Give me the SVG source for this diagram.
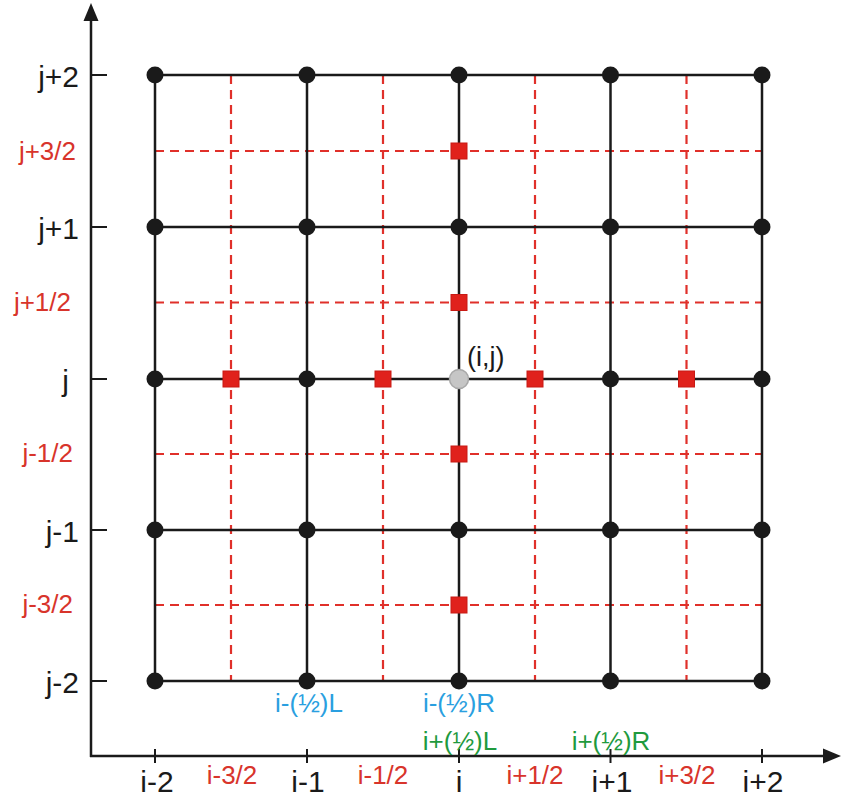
<svg xmlns="http://www.w3.org/2000/svg" width="843" height="798" viewBox="0 0 843 798">
<defs>
<style>
.grid{stroke:#1a1a1a;stroke-width:2.5;fill:none}
.dash{stroke:#e0302a;stroke-width:2.2;stroke-dasharray:9 6;fill:none}
.axis{stroke:#1a1a1a;stroke-width:2.5;fill:none}
.tick{stroke:#1a1a1a;stroke-width:2}
.node{fill:#1a1a1a}
.half{fill:#e0221c;stroke:#c81a14;stroke-width:1}
.lb{font-family:"Liberation Sans",Arial,sans-serif;font-size:30px;fill:#1a1a1a}
.lr{font-family:"Liberation Sans",Arial,sans-serif;font-size:26px;fill:#d8342b}
.lblue{font-family:"Liberation Sans",Arial,sans-serif;font-size:26px;fill:#2a9fe0}
.lgreen{font-family:"Liberation Sans",Arial,sans-serif;font-size:26px;fill:#1f9a3e}
</style>
</defs>
<g id="connectors">
<g id="dashed-lines">
<line class="dash" x1="155" y1="151" x2="762" y2="151"/>
<line class="dash" x1="155" y1="302.5" x2="762" y2="302.5"/>
<line class="dash" x1="155" y1="454" x2="762" y2="454"/>
<line class="dash" x1="155" y1="605" x2="762" y2="605"/>
<line class="dash" x1="231" y1="75" x2="231" y2="681"/>
<line class="dash" x1="383" y1="75" x2="383" y2="681"/>
<line class="dash" x1="535" y1="75" x2="535" y2="681"/>
<line class="dash" x1="686.5" y1="75" x2="686.5" y2="681"/>
</g>
<g id="grid-lines">
<line class="grid" x1="155" y1="75" x2="762" y2="75"/>
<line class="grid" x1="155" y1="227" x2="762" y2="227"/>
<line class="grid" x1="155" y1="379" x2="762" y2="379"/>
<line class="grid" x1="155" y1="530" x2="762" y2="530"/>
<line class="grid" x1="155" y1="681" x2="762" y2="681"/>
<line class="grid" x1="155" y1="75" x2="155" y2="681"/>
<line class="grid" x1="307" y1="75" x2="307" y2="681"/>
<line class="grid" x1="459" y1="75" x2="459" y2="681"/>
<line class="grid" x1="610.5" y1="75" x2="610.5" y2="681"/>
<line class="grid" x1="762" y1="75" x2="762" y2="681"/>
</g>
<g id="axes">
<line class="axis" x1="91" y1="757" x2="91" y2="18"/>
<polygon points="91,3 83.5,21 98.5,21" fill="#1a1a1a"/>
<line class="axis" x1="90" y1="756" x2="825" y2="756"/>
<polygon points="841,756 823,748.5 823,763.5" fill="#1a1a1a"/>
<line class="tick" x1="91" y1="75" x2="107" y2="75"/>
<line class="tick" x1="91" y1="227" x2="107" y2="227"/>
<line class="tick" x1="91" y1="379" x2="107" y2="379"/>
<line class="tick" x1="91" y1="530" x2="107" y2="530"/>
<line class="tick" x1="91" y1="681" x2="107" y2="681"/>
<line class="tick" x1="155" y1="749" x2="155" y2="763"/>
<line class="tick" x1="307" y1="749" x2="307" y2="763"/>
<line class="tick" x1="459" y1="749" x2="459" y2="763"/>
<line class="tick" x1="610.5" y1="749" x2="610.5" y2="763"/>
<line class="tick" x1="762" y1="749" x2="762" y2="763"/>
</g>
</g>
<g id="nodes">
<g id="n-im2-jp2"><circle class="node" cx="155" cy="75" r="8.5"/></g>
<g id="n-im1-jp2"><circle class="node" cx="307" cy="75" r="8.5"/></g>
<g id="n-i-jp2"><circle class="node" cx="459" cy="75" r="8.5"/></g>
<g id="n-ip1-jp2"><circle class="node" cx="610.5" cy="75" r="8.5"/></g>
<g id="n-ip2-jp2"><circle class="node" cx="762" cy="75" r="8.5"/></g>
<g id="n-im2-jp1"><circle class="node" cx="155" cy="227" r="8.5"/></g>
<g id="n-im1-jp1"><circle class="node" cx="307" cy="227" r="8.5"/></g>
<g id="n-i-jp1"><circle class="node" cx="459" cy="227" r="8.5"/></g>
<g id="n-ip1-jp1"><circle class="node" cx="610.5" cy="227" r="8.5"/></g>
<g id="n-ip2-jp1"><circle class="node" cx="762" cy="227" r="8.5"/></g>
<g id="n-im2-j"><circle class="node" cx="155" cy="379" r="8.5"/></g>
<g id="n-im1-j"><circle class="node" cx="307" cy="379" r="8.5"/></g>
<g id="n-ip1-j"><circle class="node" cx="610.5" cy="379" r="8.5"/></g>
<g id="n-ip2-j"><circle class="node" cx="762" cy="379" r="8.5"/></g>
<g id="n-im2-jm1"><circle class="node" cx="155" cy="530" r="8.5"/></g>
<g id="n-im1-jm1"><circle class="node" cx="307" cy="530" r="8.5"/></g>
<g id="n-i-jm1"><circle class="node" cx="459" cy="530" r="8.5"/></g>
<g id="n-ip1-jm1"><circle class="node" cx="610.5" cy="530" r="8.5"/></g>
<g id="n-ip2-jm1"><circle class="node" cx="762" cy="530" r="8.5"/></g>
<g id="n-im2-jm2"><circle class="node" cx="155" cy="681" r="8.5"/></g>
<g id="n-im1-jm2"><circle class="node" cx="307" cy="681" r="8.5"/></g>
<g id="n-i-jm2"><circle class="node" cx="459" cy="681" r="8.5"/></g>
<g id="n-ip1-jm2"><circle class="node" cx="610.5" cy="681" r="8.5"/></g>
<g id="n-ip2-jm2"><circle class="node" cx="762" cy="681" r="8.5"/></g>
<g id="h-i-jp32"><rect class="half" x="451" y="143" width="16" height="16"/></g>
<g id="h-i-jp12"><rect class="half" x="451" y="294.5" width="16" height="16"/></g>
<g id="h-i-jm12"><rect class="half" x="451" y="446" width="16" height="16"/></g>
<g id="h-i-jm32"><rect class="half" x="451" y="597" width="16" height="16"/></g>
<g id="h-im32-j"><rect class="half" x="223" y="371" width="16" height="16"/></g>
<g id="h-im12-j"><rect class="half" x="375" y="371" width="16" height="16"/></g>
<g id="h-ip12-j"><rect class="half" x="527" y="371" width="16" height="16"/></g>
<g id="h-ip32-j"><rect class="half" x="678.5" y="371" width="16" height="16"/></g>
<g id="n-center"><circle cx="459" cy="379" r="9.5" fill="#c6c6c6" stroke="#a8a8a8" stroke-width="1.5"/>
<text x="467" y="366" font-family="'Liberation Sans',Arial,sans-serif" font-size="27" fill="#1a1a1a">(i,j)</text></g>
</g>
<g id="labels">
<text class="lb" x="79" y="87" text-anchor="end">j+2</text>
<text class="lb" x="79" y="239" text-anchor="end">j+1</text>
<text class="lb" x="69" y="391" text-anchor="end">j</text>
<text class="lb" x="79" y="542" text-anchor="end">j-1</text>
<text class="lb" x="79" y="693" text-anchor="end">j-2</text>
<text class="lr" x="76" y="160" text-anchor="end">j+3/2</text>
<text class="lr" x="71" y="311" text-anchor="end">j+1/2</text>
<text class="lr" x="73" y="462" text-anchor="end">j-1/2</text>
<text class="lr" x="73" y="613" text-anchor="end">j-3/2</text>
<text class="lb" x="157" y="792" text-anchor="middle">i-2</text>
<text class="lb" x="308" y="792" text-anchor="middle">i-1</text>
<text class="lb" x="459" y="792" text-anchor="middle">i</text>
<text class="lb" x="612" y="792" text-anchor="middle">i+1</text>
<text class="lb" x="763" y="792" text-anchor="middle">i+2</text>
<text class="lr" x="232" y="784" text-anchor="middle">i-3/2</text>
<text class="lr" x="383" y="784" text-anchor="middle">i-1/2</text>
<text class="lr" x="535" y="784" text-anchor="middle">i+1/2</text>
<text class="lr" x="687" y="784" text-anchor="middle">i+3/2</text>
<text class="lblue" x="309" y="712" text-anchor="middle">i-(½)L</text>
<text class="lblue" x="459" y="712" text-anchor="middle">i-(½)R</text>
<text class="lgreen" x="460" y="750" text-anchor="middle">i+(½)L</text>
<text class="lgreen" x="611" y="750" text-anchor="middle">i+(½)R</text>
</g>
</svg>
